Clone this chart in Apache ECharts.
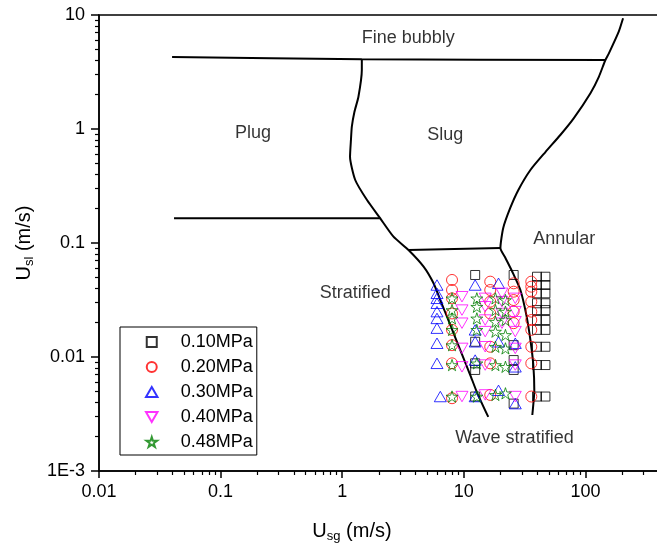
<!DOCTYPE html>
<html>
<head>
<meta charset="utf-8">
<script src="https://cdn.jsdelivr.net/npm/echarts@6/dist/echarts.min.js"></script>
<style>
  html, body { margin: 0; padding: 0; background: #fff; overflow: hidden; }
  /* the original figure is cut off at the right: draw wider and let the window crop it */
  #chart { width: 707px; height: 553px; }
</style>
</head>
<body>
<div id="chart"></div>
<script>
// tick labels
const xTickValues = [0.01, 0.1, 1, 10, 100];
const xTickLabels = ['0.01', '0.1', '1', '10', '100'];
const yTickValues = [0.001, 0.01, 0.1, 1, 10];
const yTickLabels = ['1E-3', '0.01', '0.1', '1', '10'];

// flow pattern transition lines [Usg, Usl]
const fineBubblyLine = [[0.0399, 4.28], [1.45, 4.09], [146, 4.03]];
const plugStratLine = [[0.0414, 0.165], [2.05, 0.165]];
const slugStratLine = [[3.51, 0.0868], [20.0, 0.0904]];
const plugSlugCurve = [
  [1.45, 4.09], [1.45, 3.29], [1.36, 1.92], [1.26, 1.41], [1.20, 1.05], [1.18, 0.80],
  [1.16, 0.571], [1.28, 0.357], [1.60, 0.238], [2.05, 0.165], [2.64, 0.1136], [3.51, 0.0868],
  [4.67, 0.0620], [5.64, 0.0443], [6.41, 0.0316], [7.74, 0.0191], [9.36, 0.0115],
  [11.3, 0.00695], [12.9, 0.00483], [15.9, 0.00298]
];
const annularCurve = [
  [204, 9.35], [188, 7.14], [156, 4.61], [146, 4.03], [129, 2.87], [110, 2.06], [80.1, 1.24],
  [62.2, 0.886], [46.9, 0.628], [35.3, 0.437], [28.1, 0.292], [24.1, 0.203], [21.1, 0.1355],
  [20.0, 0.0904], [22.0, 0.0738], [25.1, 0.0557], [29.2, 0.0387], [32.7, 0.0233],
  [35.3, 0.0141], [37.3, 0.00851], [38.0, 0.00514], [36.6, 0.0031]
];

// region labels [text, Usg, Usl]
const regionLabels = [
  ['Fine bubbly', 3.49, 6.29],
  ['Plug', 0.185, 0.922],
  ['Slug', 7.04, 0.886],
  ['Annular', 67.1, 0.108],
  ['Stratified', 1.28, 0.0364],
  ['Wave stratified', 26.1, 0.00195]
];

// experimental points [Usg, Usl]
const p010 = [
  [12.4, 0.0524], [12.4, 0.0136], [12.4, 0.0088], [12.4, 0.0077], [12.4, 0.0045],
  [25.7, 0.0524], [25.7, 0.0127], [25.7, 0.0094], [25.7, 0.0077], [25.7, 0.0039],
  [40.0, 0.0506], [40.0, 0.0428], [40.0, 0.0362], [40.0, 0.0296], [40.0, 0.0258],
  [40.0, 0.0211], [40.0, 0.0173], [40.0, 0.0123], [40.0, 0.0085], [40.0, 0.0045],
  [46.9, 0.0506], [46.9, 0.0428], [46.9, 0.0362], [46.9, 0.0296], [46.9, 0.0258],
  [46.9, 0.0211], [46.9, 0.0173], [46.9, 0.0123], [46.9, 0.0085], [46.9, 0.0045]
];
const p020 = [
  [8.0, 0.0474], [8.0, 0.0387], [8.0, 0.0327], [8.0, 0.0241], [8.0, 0.0173], [8.0, 0.0127],
  [8.0, 0.0088], [8.0, 0.00435],
  [16.5, 0.0458], [16.5, 0.0387], [16.5, 0.0306], [16.5, 0.0241], [16.5, 0.0123],
  [16.5, 0.0088], [16.5, 0.00465],
  [25.7, 0.0443], [25.7, 0.0374], [25.7, 0.0316], [25.7, 0.0250], [25.7, 0.0198],
  [35.9, 0.0458], [35.9, 0.0414], [35.9, 0.0374], [35.9, 0.0306], [35.9, 0.0250],
  [35.9, 0.0211], [35.9, 0.0173], [35.9, 0.0123], [35.9, 0.0088], [35.9, 0.0045]
];
const p030 = [
  [6.02, 0.0428], [6.02, 0.0362], [6.02, 0.0327], [6.02, 0.0296], [6.02, 0.0250],
  [6.02, 0.0218], [6.02, 0.0179], [6.02, 0.0132], [6.02, 0.0088], [6.41, 0.0045],
  [12.4, 0.0428], [12.4, 0.0173], [12.4, 0.0136], [12.4, 0.0094], [12.4, 0.0045],
  [19.3, 0.0443], [19.3, 0.0136], [19.3, 0.0051],
  [26.5, 0.0132], [26.5, 0.0082], [26.5, 0.0039]
];
const p040 = [
  [9.66, 0.0338], [9.66, 0.0258], [9.66, 0.0198], [9.66, 0.0119], [9.66, 0.0082], [9.66, 0.0045],
  [15.0, 0.0327], [15.0, 0.0276], [15.0, 0.0211], [15.0, 0.0167], [15.0, 0.0123],
  [15.0, 0.0085], [15.0, 0.00465],
  [20.6, 0.0362], [20.6, 0.0306], [20.6, 0.0241], [20.6, 0.0198],
  [26.5, 0.0327], [26.5, 0.0250], [26.5, 0.0204], [26.5, 0.0167], [26.5, 0.0119],
  [26.5, 0.0085], [26.5, 0.0045]
];
const p048 = [
  [8.0, 0.0327], [8.0, 0.0258], [8.0, 0.0218], [8.0, 0.0173], [8.0, 0.0127], [8.0, 0.0085], [8.0, 0.0045],
  [12.8, 0.0327], [12.8, 0.0276], [12.8, 0.0218], [12.8, 0.0173], [12.8, 0.0088], [12.8, 0.0045],
  [18.2, 0.0327], [18.2, 0.0258], [18.2, 0.0204], [18.2, 0.0167], [18.2, 0.0123],
  [18.2, 0.0085], [18.2, 0.00465],
  [22.0, 0.0316], [22.0, 0.0250], [22.0, 0.0211], [22.0, 0.0156], [22.0, 0.0119],
  [22.0, 0.0082], [22.0, 0.0048]
];

const FONT = '"Liberation Sans", Arial, sans-serif';
// path symbols keep their aspect in the legend, built-in rect/triangle don't
const SQUARE = 'path://M0,0 L10,0 L10,10 L0,10 Z';
const UP_TRI = 'path://M50,0 L100,87 L0,87 Z';
const DOWN_TRI = 'path://M0,0 L100,0 L50,87 Z';
const STAR = 'path://M50,0 L61,35 L98,35 L68,57 L79,91 L50,70 L21,91 L32,57 L2,35 L39,35 Z';

function tickLabel(values, labels) {
  return function (v) {
    for (let i = 0; i < values.length; i++) {
      if (Math.abs(Math.log10(v) - Math.log10(values[i])) < 1e-6) return labels[i];
    }
    return '';
  };
}

function lineSeries(data) {
  return {
    type: 'line',
    data: data,
    symbol: 'none',
    smooth: 0.2,
    silent: true,
    lineStyle: { color: '#000', width: 2 },
    z: 1
  };
}

function pointSeries(name, data, symbol, size, color) {
  return {
    name: name,
    type: 'scatter',
    data: data,
    symbol: symbol,
    symbolSize: size,
    symbolKeepAspect: true,
    itemStyle: { color: 'rgba(0,0,0,0)', borderColor: color, borderWidth: 1 },
    emphasis: { disabled: true },
    z: 3
  };
}

const chart = echarts.init(document.getElementById('chart'));
chart.setOption({
  animation: false,
  textStyle: { fontFamily: FONT },
  grid: {
    left: 99, top: 15, right: 0, bottom: 82,
    outerBoundsMode: 'none',
    show: true, borderColor: '#000', borderWidth: 1.5
  },
  legend: {
    orient: 'vertical',
    left: 120,
    top: 327,
    padding: [6, 4, 4, 25],
    itemGap: 7,
    itemWidth: 48,
    itemHeight: 10,
    borderColor: '#000',
    borderWidth: 1,
    textStyle: { fontSize: 18, color: '#000', fontFamily: FONT },
    data: ['0.10MPa', '0.20MPa', '0.30MPa', '0.40MPa', '0.48MPa']
  },
  xAxis: {
    type: 'log',
    min: 0.01,
    max: 1000,
    name: '{a|U}{s|sg}{a| (m/s)}',
    nameLocation: 'middle',
    nameGap: 48,
    nameTextStyle: {
      padding: [0, 102, 0, 0],
      rich: {
        a: { fontSize: 20, fontFamily: FONT, color: '#000', lineHeight: 24 },
        s: { fontSize: 13, fontFamily: FONT, color: '#000', lineHeight: 10, verticalAlign: 'bottom' }
      }
    },
    axisLine: { lineStyle: { color: '#000', width: 1.5 } },
    axisTick: { show: true, length: 7, lineStyle: { color: '#000', width: 1.5 } },
    minorTick: { show: true, splitNumber: 9, length: 4, lineStyle: { color: '#000', width: 1.2 } },
    splitLine: { show: false },
    axisLabel: {
      fontSize: 18, color: '#000', margin: 12, fontFamily: FONT,
      formatter: tickLabel(xTickValues, xTickLabels)
    }
  },
  yAxis: {
    type: 'log',
    min: 0.001,
    max: 10,
    name: '{a|U}{s|sl}{a| (m/s)}',
    nameLocation: 'middle',
    nameGap: 58,
    nameTextStyle: {
      rich: {
        a: { fontSize: 20, fontFamily: FONT, color: '#000', lineHeight: 24 },
        s: { fontSize: 13, fontFamily: FONT, color: '#000', lineHeight: 10, verticalAlign: 'bottom' }
      }
    },
    axisLine: { lineStyle: { color: '#000', width: 1.5 } },
    axisTick: { show: true, length: 8, lineStyle: { color: '#000', width: 1.5 } },
    minorTick: { show: true, splitNumber: 9, length: 4, lineStyle: { color: '#000', width: 1.2 } },
    splitLine: { show: false },
    axisLabel: {
      fontSize: 18, color: '#000', margin: 14, fontFamily: FONT,
      formatter: tickLabel(yTickValues, yTickLabels)
    }
  },
  series: [
    lineSeries(fineBubblyLine),
    lineSeries(plugStratLine),
    lineSeries(slugStratLine),
    lineSeries(plugSlugCurve),
    lineSeries(annularCurve),
    {
      type: 'scatter',
      data: regionLabels.map(r => ({ value: [r[1], r[2]], name: r[0] })),
      symbolSize: 0,
      silent: true,
      label: {
        show: true,
        position: 'inside',
        formatter: p => p.name,
        fontSize: 18,
        color: '#000',
        fontFamily: FONT
      },
      z: 2
    },
    pointSeries('0.10MPa', p010, SQUARE, 9, '#000000'),
    pointSeries('0.20MPa', p020, 'circle', 11, '#ff0000'),
    pointSeries('0.30MPa', p030, UP_TRI, 12, '#0000ff'),
    pointSeries('0.40MPa', p040, DOWN_TRI, 12, '#ff00ff'),
    pointSeries('0.48MPa', p048, STAR, 12, '#008000')
  ]
});
</script>
</body>
</html>
